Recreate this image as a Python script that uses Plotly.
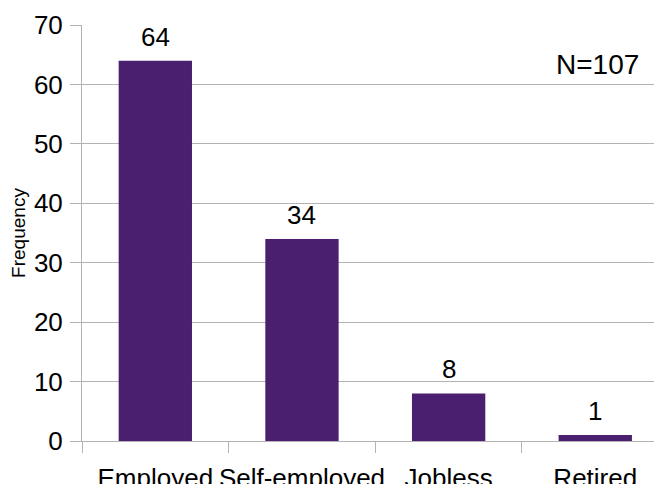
import plotly.graph_objects as go

categories = ["Employed", "Self-employed", "Jobless", "Retired"]
frequencies = [64, 34, 8, 1]
y_ticks = [0, 10, 20, 30, 40, 50, 60, 70]
note_text = "N=107"

FONT = "Liberation Sans, Arial, sans-serif"
BAR = "#4b1f6f"
GRID = "#b3b3b3"

fig = go.Figure(go.Bar(
    x=categories, y=frequencies, width=0.5,
    marker=dict(color=BAR, line=dict(width=0)),
    cliponaxis=False,
))

value_labels = [dict(
    x=c, y=v, xref="x", yref="y", text=str(v), showarrow=False,
    xanchor="center", yanchor="bottom", yshift=7,
    font=dict(family=FONT, size=26, color="#000000"),
) for c, v in zip(categories, frequencies)]

fig.update_layout(
    width=654, height=476,
    margin=dict(l=74, r=0, t=17, b=43, autoexpand=False),
    paper_bgcolor="white", plot_bgcolor="white",
    font=dict(family=FONT, color="#000000"),
    showlegend=False,
    xaxis=dict(
        type="category", range=[-0.5, 3.455], automargin=False, tickangle=0,
        tickson="boundaries", ticks="outside", ticklen=11, tickcolor=GRID, tickwidth=1,
        showline=True, linecolor=GRID, linewidth=1,
        showgrid=False, tickfont=dict(family=FONT, size=26, color="#000000"),
        ticklabelstandoff=14,
    ),
    yaxis=dict(
        range=[0, 70], tickvals=y_ticks, ticktext=[str(t) for t in y_ticks], automargin=False,
        ticks="outside", ticklen=11, tickcolor=GRID, tickwidth=1,
        showline=True, linecolor=GRID, linewidth=1,
        showgrid=True, gridcolor=GRID, gridwidth=1, zeroline=False,
        tickfont=dict(family=FONT, size=26, color="#000000"),
        ticklabelstandoff=2,
        title=dict(text="Frequency", font=dict(family=FONT, size=19, color="#000000"), standoff=4),
    ),
    annotations=value_labels + [dict(
        text=note_text, xref="paper", yref="paper", x=0.964, y=0.906,
        xanchor="right", yanchor="middle", showarrow=False,
        font=dict(family=FONT, size=28, color="#000000"),
    )],
)

fig.write_html("out.html")
